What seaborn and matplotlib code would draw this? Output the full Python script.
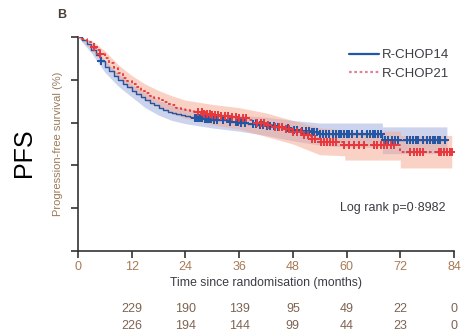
import numpy as np
import pandas as pd
import matplotlib
matplotlib.use("Agg")
import matplotlib.pyplot as plt
from matplotlib.lines import Line2D
import seaborn as sns

# Kaplan-Meier step estimates (months, % progression-free)
blue_t = [0, 1, 2, 3, 4, 5, 6, 7, 8, 9, 10, 11, 12, 13, 14, 15, 16, 17, 18, 19, 20,
          21, 22, 23, 24, 25, 26, 28, 30, 32, 34, 36, 38, 40, 42, 44, 46, 48, 50, 52,
          54, 60, 68, 82.4]
blue_s = [100, 98.5, 96.5, 94, 91.5, 89, 86, 84, 82, 80, 78, 76.5, 75, 73.5, 72, 70.5,
          69, 68, 67, 66, 65, 64.5, 64, 63.5, 63, 62.5, 62, 61.5, 61, 61, 60.5, 60, 59.5,
          59, 58.5, 58, 57.5, 56.5, 56, 55.5, 54.5, 54.5, 52, 52]

red_t = [0, 1, 2, 3, 4, 5, 6, 7, 8, 9, 10, 11, 12, 13, 14, 15, 16, 17, 18, 19, 20,
         21, 22, 23, 24, 25, 26, 28, 30, 32, 34, 36, 38, 40, 42, 44, 46, 48, 50, 52,
         54, 59.5, 72, 83.5]
red_s = [100, 99, 97.5, 95.5, 94, 92, 90, 88, 85.5, 83, 81, 79.5, 78, 76.5, 75, 74,
         72.5, 71.5, 70.5, 69.5, 68.5, 68, 67, 66.5, 66, 65.5, 65, 64, 63.5, 63, 62.5,
         62, 61, 60, 59, 58, 57, 55.5, 54, 52.5, 51, 49.5, 46.3, 46.3]

# 95% confidence bands (repeated times mark a step in the band)
blue_band_t = [0, 3, 6, 9, 12, 15, 18, 21, 24, 27, 30, 36, 42, 48, 54, 60, 68, 68, 82.4]
blue_lo = [100, 92.5, 83.5, 77, 72, 67, 63.5, 61, 59.5, 58.5, 57.5, 56, 54, 51.5, 49.5,
           48.5, 48.5, 45.5, 45.5]
blue_hi = [100, 96.5, 89, 83, 78, 74, 70.5, 68, 66.5, 65.5, 64.5, 63.5, 62.5, 61, 59.8,
           59.8, 59.8, 58, 58]
red_band_t = [0, 3, 6, 9, 12, 15, 18, 21, 24, 27, 30, 36, 42, 48, 54, 59.6, 59.6, 72, 72,
              83.5]
red_lo = [100, 94, 87.5, 80.5, 75, 70.5, 67, 64, 62, 60.5, 59, 57, 53.5, 50, 45, 44.5,
          42.5, 42.5, 38.8, 38.8]
red_hi = [100, 98.5, 93.5, 87, 82, 78, 75, 72.5, 70.5, 69.5, 68.5, 67, 64.5, 61, 57.5,
          56.5, 56, 56, 54, 54]

# censored observations (months)
blue_cens = [5.2, 26.2, 26.6, 27.0, 27.4, 27.8, 28.3, 28.8, 29.3, 29.8, 30.4, 31.0, 32.5,
             34.0, 35.2, 35.8, 36.5, 37.2, 39.0, 39.8, 40.6, 41.4, 42.2, 43.0, 43.8, 44.6,
             45.5, 47.0, 48.2, 49.0, 50.0, 51.0, 51.6, 52.2, 52.8, 53.4, 54.1, 54.7, 55.3,
             56.0, 57.0, 57.6, 58.2, 58.8, 59.4, 60.0, 60.6, 61.3, 62.3, 63.4, 64.5, 65.2,
             65.8, 66.4, 67.0, 67.6, 68.6, 69.3, 70.1, 70.8, 71.6, 73.4, 74.2, 74.8, 75.4,
             76.0, 77.1, 77.9, 78.6, 79.2, 79.8, 80.4, 80.9, 82.0]
red_cens = [3.6, 5.0, 26.9, 27.6, 28.2, 28.8, 29.4, 30.0, 30.6, 31.2, 32.0, 32.8, 33.6,
            34.4, 35.2, 36.0, 36.8, 37.6, 40.0, 40.8, 41.6, 42.4, 44.0, 44.8, 45.6, 46.4,
            47.2, 48.0, 49.0, 49.8, 50.6, 51.4, 52.2, 53.0, 54.2, 54.9, 55.6, 56.3, 57.0,
            57.7, 59.5, 60.6, 61.7, 62.8, 63.9, 66.2, 66.9, 67.6, 68.4, 69.1, 69.9, 70.6,
            74.2, 75.0, 75.7, 76.4, 77.0, 80.6, 81.2, 81.8, 82.4, 83.0, 83.5]

x_ticks = [0, 12, 24, 36, 48, 60, 72, 84]
y_ticks = [0, 20, 40, 60, 80, 100]
risk_times = [12, 24, 36, 48, 60, 72, 84]
risk_r14 = [229, 190, 139, 95, 49, 22, 0]
risk_r21 = [226, 194, 144, 99, 44, 23, 0]

arm_names = ["R-CHOP14", "R-CHOP21"]
c_blue = "#1f56a5"
c_red = "#e8383d"
txt = "#3d3a44"
num_col = "#7d6452"
tick_col = "#a87a55"

sns.set_theme(style="white")
plt.rcParams["font.family"] = ["Liberation Sans", "DejaVu Sans"]

fig = plt.figure(figsize=(4.64, 3.34), dpi=100)
ax = fig.add_axes([78 / 464, 1 - 251 / 334, 376 / 464, 214 / 334])

ax.fill_between(blue_band_t, blue_lo, blue_hi, color="#9aa8dc", alpha=0.5, lw=0, zorder=1)
ax.fill_between(red_band_t, red_lo, red_hi, color="#f4a68c", alpha=0.5, lw=0, zorder=2)

df_b = pd.DataFrame({"t": blue_t, "s": blue_s})
df_r = pd.DataFrame({"t": red_t, "s": red_s})
sns.lineplot(data=df_b, x="t", y="s", estimator=None, sort=False, ax=ax,
             drawstyle="steps-post", color=c_blue, lw=1.0, zorder=3)
sns.lineplot(data=df_r, x="t", y="s", estimator=None, sort=False, ax=ax,
             drawstyle="steps-post", color=c_red, lw=1.3, ls=(0, (1.5, 1.5)), zorder=4)


def km_at(times, t, s):
    idx = np.searchsorted(np.asarray(t), np.asarray(times), side="right") - 1
    return np.asarray(s)[idx]


cb = pd.DataFrame({"t": blue_cens, "s": km_at(blue_cens, blue_t, blue_s)})
cr = pd.DataFrame({"t": red_cens, "s": km_at(red_cens, red_t, red_s)})
sns.scatterplot(data=cb, x="t", y="s", marker="+", s=30, color=c_blue, linewidth=1.4,
                ax=ax, zorder=5, legend=False)
sns.scatterplot(data=cr, x="t", y="s", marker="+", s=30, color=c_red, linewidth=1.4,
                ax=ax, zorder=6, legend=False)

ax.set_xlim(0, 84)
ax.set_ylim(0, 100)
ax.set_xticks(x_ticks)
ax.set_xticklabels([str(v) for v in x_ticks])
ax.set_yticks(y_ticks)
ax.set_yticklabels([])
sns.despine(ax=ax)
for sp in ("left", "bottom"):
    ax.spines[sp].set_color("#333333")
    ax.spines[sp].set_linewidth(1.2)
ax.tick_params(axis="both", direction="out", length=5, width=1.2, color="#333333",
               labelsize=9, labelcolor=tick_col, pad=2)
ax.tick_params(axis="y", left=True)
ax.tick_params(axis="x", bottom=True)
ax.set_xlabel("Time since randomisation (months)", fontsize=8.8, color=txt, labelpad=3)
ax.set_ylabel("Progression-free survival (%)", fontsize=8, color="#9a7a5a", labelpad=4)
ax.grid(False)

handles = [Line2D([], [], color=c_blue, lw=1.6),
           Line2D([], [], color="#e0849a", lw=1.6, ls=(0, (1.2, 1.2)))]
ax.legend(handles, arm_names, loc="upper left", bbox_to_anchor=(349 / 464, 1 - 49 / 334),
          bbox_transform=fig.transFigure, frameon=False, fontsize=9.5, handlelength=2.3,
          handletextpad=0.2, labelspacing=0.5, borderaxespad=0, borderpad=0,
          labelcolor=txt)

ax.text(0.977, (251 - 208) / 214, "Log rank p=0·8982", transform=ax.transAxes,
        ha="right", va="center", fontsize=9, color=txt)

for x, a, b in zip(risk_times, risk_r14, risk_r21):
    ax.text(x, (251 - 309) / 214, str(a), transform=ax.get_xaxis_transform(),
            ha="center", va="center", fontsize=9, color=num_col, clip_on=False)
    ax.text(x, (251 - 326) / 214, str(b), transform=ax.get_xaxis_transform(),
            ha="center", va="center", fontsize=9, color=num_col, clip_on=False)

fig.text(62 / 464, 1 - 15 / 334, "B", fontsize=9, fontweight="bold", color="#4a3f38",
         ha="center", va="center")
fig.text(24 / 464, 1 - 153 / 334, "PFS", fontsize=18, rotation=90, color="black",
         ha="center", va="center")

fig.savefig("out.png", dpi=100)
